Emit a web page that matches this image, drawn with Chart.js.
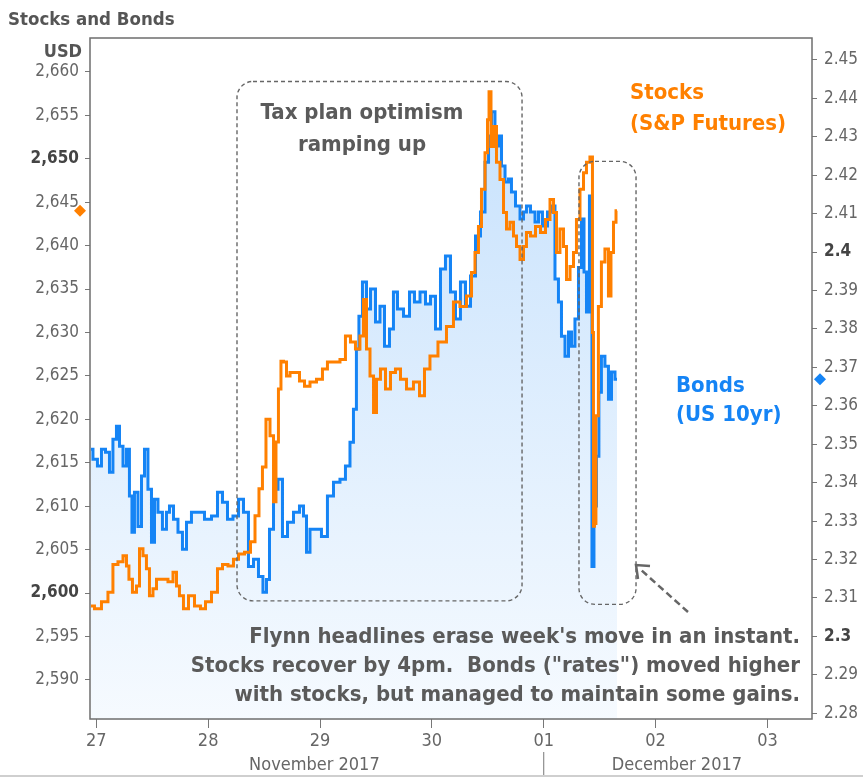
<!DOCTYPE html>
<html>
<head>
<meta charset="utf-8">
<script src="https://cdn.jsdelivr.net/npm/chart.js@4.4.0/dist/chart.umd.min.js"></script>
<style>
html, body { margin: 0; padding: 0; background: #fff; }
#wrap { width: 863px; height: 777px; position: relative; }
</style>
</head>
<body>
<div id="wrap"><canvas id="chart" width="863" height="777"></canvas></div>
<script>
// x = days since Nov 27 2017 00:00
var dayLabels = ['27', '28', '29', '30', '01', '02', '03'];
var monthNames = ['November 2017', 'December 2017'];

// Stocks (S&P futures), left axis
var stockTimes = [-0.047, 0.015, 0.078, 0.131, 0.167, 0.221, 0.257, 0.283, 0.301, 0.346, 0.373, 0.400, 0.435, 0.462, 0.489, 0.525, 0.552, 0.614, 0.668, 0.704, 0.730, 0.757, 0.802, 0.847, 0.909, 0.954, 0.999, 1.061, 1.106, 1.151, 1.204, 1.249, 1.294, 1.356, 1.401, 1.437, 1.472, 1.499, 1.535, 1.571, 1.598, 1.615, 1.642, 1.660, 1.687, 1.714, 1.750, 1.794, 1.839, 1.884, 1.937, 2.000, 2.044, 2.089, 2.152, 2.205, 2.250, 2.295, 2.339, 2.375, 2.402, 2.429, 2.465, 2.492, 2.518, 2.563, 2.608, 2.652, 2.697, 2.742, 2.804, 2.867, 2.912, 2.956, 3.010, 3.099, 3.162, 3.224, 3.278, 3.341, 3.368, 3.403, 3.430, 3.457, 3.493, 3.502, 3.520, 3.537, 3.564, 3.591, 3.627, 3.654, 3.680, 3.716, 3.743, 3.770, 3.806, 3.832, 3.859, 3.904, 3.949, 3.993, 4.038, 4.074, 4.101, 4.127, 4.163, 4.190, 4.217, 4.253, 4.279, 4.306, 4.342, 4.369, 4.395, 4.431, 4.440, 4.449, 4.458, 4.475, 4.502, 4.529, 4.565, 4.592, 4.610, 4.637, 4.655];
var stockValues = [2598.5, 2598.2, 2599.0, 2600.1, 2603.3, 2603.6, 2604.3, 2603.1, 2601.6, 2600.1, 2600.8, 2605.1, 2604.3, 2602.8, 2599.7, 2600.5, 2601.6, 2601.6, 2601.3, 2602.4, 2600.8, 2599.7, 2598.2, 2599.7, 2598.5, 2598.2, 2599.0, 2600.1, 2602.8, 2603.3, 2603.1, 2603.9, 2604.5, 2604.7, 2605.9, 2608.9, 2612.0, 2614.5, 2620.0, 2618.1, 2610.5, 2617.4, 2623.5, 2626.7, 2626.6, 2625.0, 2625.4, 2625.4, 2624.4, 2623.8, 2624.3, 2624.6, 2625.8, 2626.6, 2626.6, 2626.9, 2629.6, 2628.9, 2628.1, 2629.6, 2633.8, 2628.1, 2625.0, 2620.8, 2624.6, 2625.8, 2623.5, 2625.4, 2625.8, 2624.6, 2623.5, 2624.3, 2622.7, 2625.8, 2627.3, 2628.9, 2630.7, 2633.5, 2633.0, 2634.2, 2636.9, 2639.2, 2642.2, 2646.5, 2650.7, 2654.5, 2657.7, 2651.4, 2653.7, 2649.6, 2647.6, 2643.8, 2641.9, 2642.7, 2641.1, 2639.9, 2638.4, 2639.9, 2641.5, 2641.1, 2642.2, 2641.5, 2643.0, 2645.3, 2643.8, 2639.2, 2641.9, 2639.9, 2636.1, 2637.6, 2639.2, 2643.0, 2646.5, 2648.4, 2649.6, 2650.2, 2630.0, 2607.7, 2608.0, 2620.4, 2633.0, 2638.1, 2639.6, 2634.2, 2639.2, 2642.7, 2644.0];

// Bonds (US 10yr yield), right axis
var bondTimes = [-0.047, -0.012, 0.033, 0.060, 0.105, 0.131, 0.167, 0.194, 0.221, 0.257, 0.283, 0.310, 0.328, 0.355, 0.391, 0.418, 0.444, 0.480, 0.507, 0.534, 0.569, 0.614, 0.641, 0.668, 0.713, 0.748, 0.793, 0.820, 0.882, 0.936, 0.999, 1.061, 1.106, 1.151, 1.195, 1.249, 1.294, 1.338, 1.383, 1.428, 1.472, 1.508, 1.535, 1.562, 1.607, 1.642, 1.687, 1.732, 1.794, 1.839, 1.866, 1.893, 1.928, 1.982, 2.044, 2.089, 2.152, 2.205, 2.250, 2.286, 2.312, 2.339, 2.357, 2.402, 2.429, 2.474, 2.518, 2.554, 2.599, 2.643, 2.670, 2.715, 2.778, 2.822, 2.867, 2.921, 2.965, 3.010, 3.055, 3.099, 3.144, 3.189, 3.233, 3.278, 3.323, 3.368, 3.412, 3.457, 3.493, 3.520, 3.546, 3.582, 3.609, 3.636, 3.672, 3.698, 3.725, 3.770, 3.806, 3.832, 3.859, 3.904, 3.940, 3.966, 4.011, 4.056, 4.083, 4.118, 4.145, 4.172, 4.208, 4.235, 4.261, 4.297, 4.324, 4.351, 4.369, 4.395, 4.422, 4.440, 4.458, 4.484, 4.502, 4.529, 4.565, 4.592, 4.619, 4.655];
var bondValues = [2.3487, 2.3461, 2.3443, 2.3487, 2.3479, 2.3427, 2.3513, 2.3547, 2.3495, 2.3443, 2.3487, 2.3365, 2.3271, 2.3375, 2.3286, 2.3417, 2.3487, 2.3383, 2.3245, 2.3357, 2.3323, 2.3279, 2.3323, 2.3339, 2.3305, 2.3271, 2.3227, 2.3297, 2.3323, 2.3323, 2.3305, 2.3313, 2.3375, 2.3349, 2.3305, 2.3313, 2.3357, 2.3323, 2.3182, 2.3201, 2.3156, 2.3115, 2.3148, 2.3279, 2.3383, 2.3409, 2.3260, 2.3297, 2.3323, 2.3339, 2.3313, 2.3219, 2.3279, 2.3279, 2.3260, 2.3365, 2.3401, 2.3409, 2.3443, 2.3505, 2.3591, 2.3747, 2.3833, 2.3922, 2.3852, 2.3904, 2.3818, 2.3859, 2.3755, 2.3800, 2.3896, 2.3852, 2.3833, 2.3896, 2.3870, 2.3896, 2.3865, 2.3885, 2.3800, 2.3956, 2.3990, 2.3896, 2.3826, 2.3922, 2.3859, 2.3938, 2.4042, 2.4104, 2.4234, 2.4302, 2.4365, 2.4276, 2.4302, 2.4224, 2.4182, 2.4190, 2.4156, 2.4120, 2.4086, 2.4104, 2.4120, 2.4104, 2.4078, 2.4104, 2.4068, 2.4104, 2.4120, 2.3930, 2.3870, 2.3781, 2.3729, 2.3792, 2.3755, 2.3826, 2.3960, 2.4086, 2.3948, 2.3844, 2.4146, 2.3182, 2.3339, 2.3469, 2.3635, 2.3729, 2.3703, 2.3617, 2.3688, 2.3669];

var FONT = '"DejaVu Sans Condensed", "DejaVu Sans", sans-serif';
var ORANGE = '#ff8000';
var BLUE = '#1584f5';
var GREY = '#5a5a5a';

function pts(xs, ys) {
    return xs.map(function (x, i) { return { x: x, y: ys[i] }; });
}

// dashed boxes in data units (x days, y on the stocks axis)
var boxes = [
    { x0: 1.258, x1: 3.806, y0: 2599.1, y1: 2658.9 },
    { x0: 4.315, x1: 4.825, y0: 2598.7, y1: 2649.7 }
];

function roundRect(ctx, x, y, w, h, r) {
    ctx.beginPath();
    ctx.moveTo(x + r, y);
    ctx.lineTo(x + w - r, y);
    ctx.arcTo(x + w, y, x + w, y + r, r);
    ctx.lineTo(x + w, y + h - r);
    ctx.arcTo(x + w, y + h, x + w - r, y + h, r);
    ctx.lineTo(x + r, y + h);
    ctx.arcTo(x, y + h, x, y + h - r, r);
    ctx.lineTo(x, y + r);
    ctx.arcTo(x, y, x + r, y, r);
    ctx.closePath();
}

function lines(ctx, arr, x, y0, step, color, align) {
    ctx.fillStyle = color;
    ctx.textAlign = align;
    arr.forEach(function (s, i) { ctx.fillText(s, x, y0 + i * step); });
}

function diamond(ctx, x, y, r, color) {
    ctx.beginPath();
    ctx.moveTo(x, y - r); ctx.lineTo(x + r, y); ctx.lineTo(x, y + r); ctx.lineTo(x - r, y);
    ctx.closePath();
    ctx.fillStyle = color;
    ctx.fill();
}

var overlay = {
    id: 'overlay',
    beforeDraw: function (chart) {
        var ctx = chart.ctx;
        ctx.save();
        ctx.fillStyle = '#fff';
        ctx.fillRect(0, 0, chart.width, chart.height);
        ctx.restore();
    },
    afterDatasetsDraw: function (chart) {
        var ctx = chart.ctx, a = chart.chartArea;
        var sx = chart.scales.x, sl = chart.scales.yL, sr = chart.scales.yR;
        ctx.save();
        // frame
        ctx.strokeStyle = '#6e6e6e';
        ctx.lineWidth = 1.5;
        ctx.strokeRect(a.left, a.top, a.right - a.left, a.bottom - a.top);

        // dashed boxes
        ctx.strokeStyle = '#666';
        ctx.lineWidth = 1.4;
        ctx.setLineDash([4, 3]);
        boxes.forEach(function (b) {
            var x0 = sx.getPixelForValue(b.x0), x1 = sx.getPixelForValue(b.x1);
            var y0 = sl.getPixelForValue(b.y1), y1 = sl.getPixelForValue(b.y0);
            roundRect(ctx, x0, y0, x1 - x0, y1 - y0, 16);
            ctx.stroke();
        });

        // arrow
        ctx.strokeStyle = '#666';
        ctx.lineWidth = 2.5;
        ctx.setLineDash([7, 4]);
        ctx.beginPath(); ctx.moveTo(688, 612); ctx.lineTo(640, 569); ctx.stroke();
        ctx.setLineDash([]);
        ctx.beginPath();
        ctx.moveTo(650, 566); ctx.lineTo(636, 565); ctx.lineTo(638, 579);
        ctx.stroke();

        // texts
        ctx.font = 'bold 22px ' + FONT;
        ctx.textBaseline = 'middle';
        lines(ctx, ['Tax plan optimism', 'ramping up'], 362, 113, 32, GREY, 'center');
        lines(ctx, ['Stocks', '(S&P Futures)'], 630, 93, 31, ORANGE, 'left');
        lines(ctx, ['Bonds', '(US 10yr)'], 676, 386, 29, BLUE, 'left');
        lines(ctx, ['Flynn headlines erase week\'s move in an instant.',
                    'Stocks recover by 4pm.  Bonds ("rates") moved higher',
                    'with stocks, but managed to maintain some gains.'], 800, 637, 29, GREY, 'right');

        // last-value markers on the axes
        diamond(ctx, 80, sl.getPixelForValue(stockValues[stockValues.length - 1]), 6, ORANGE);
        diamond(ctx, 820, sr.getPixelForValue(bondValues[bondValues.length - 1]), 6, BLUE);

        // title and unit
        ctx.font = 'bold 18.5px ' + FONT;
        lines(ctx, ['Stocks and Bonds'], 8, 20, 0, '#555', 'left');
        ctx.font = 'bold 18px ' + FONT;
        lines(ctx, ['USD'], 82, 52, 0, '#555', 'right');

        // month row
        ctx.font = '18px ' + FONT;
        lines(ctx, [monthNames[0]], sx.getPixelForValue(1.95), 765, 0, '#666', 'center');
        lines(ctx, [monthNames[1]], sx.getPixelForValue(5.19), 765, 0, '#666', 'center');
        var xb = sx.getPixelForValue(4);
        ctx.strokeStyle = '#777';
        ctx.lineWidth = 1;
        ctx.beginPath(); ctx.moveTo(xb, 752); ctx.lineTo(xb, 777); ctx.stroke();

        // bottom rule
        ctx.strokeStyle = '#cfcfcf';
        ctx.lineWidth = 2;
        ctx.beginPath(); ctx.moveTo(0, 776); ctx.lineTo(863, 776); ctx.stroke();
        ctx.restore();
    }
};

function tickFont(boldVals) {
    return function (c) {
        var v = c.tick ? c.tick.value : null;
        var bold = boldVals.some(function (b) { return v !== null && Math.abs(v - b) < 1e-6; });
        return { family: FONT, size: 17, weight: bold ? 'bold' : 'normal' };
    };
}

new Chart(document.getElementById('chart'), {
    type: 'line',
    data: {
        datasets: [{
            label: 'Stocks (S&P Futures)',
            data: pts(stockTimes, stockValues),
            yAxisID: 'yL',
            borderColor: ORANGE,
            borderWidth: 3,
            pointRadius: 0,
            stepped: 'middle',
            fill: false
        }, {
            label: 'Bonds (US 10yr)',
            data: pts(bondTimes, bondValues),
            yAxisID: 'yR',
            borderColor: BLUE,
            borderWidth: 3,
            pointRadius: 0,
            stepped: 'middle',
            fill: 'start',
            backgroundColor: function (c) {
                var a = c.chart.chartArea;
                if (!a) return 'rgba(21,132,245,0.15)';
                var g = c.chart.ctx.createLinearGradient(0, a.top, 0, a.bottom);
                g.addColorStop(0, 'rgba(21,132,245,0.26)');
                g.addColorStop(1, 'rgba(21,132,245,0.04)');
                return g;
            }
        }]
    },
    options: {
        responsive: false,
        animation: false,
        layout: { padding: { top: 38, left: 0, right: 0, bottom: 0 } },
        plugins: { legend: { display: false }, tooltip: { enabled: false } },
        scales: {
            x: {
                type: 'linear',
                min: -0.056,
                max: 6.398,
                afterFit: function (s) { s.height = 58; },
                grid: { drawOnChartArea: false, drawTicks: true, tickLength: 9, color: '#777' },
                border: { display: false },
                ticks: {
                    stepSize: 1,
                    includeBounds: false,
                    autoSkip: false,
                    maxRotation: 0,
                    padding: 3,
                    color: '#666',
                    font: { family: FONT, size: 18 },
                    callback: function (v) { return dayLabels[Math.round(v)] || ''; }
                }
            },
            yL: {
                position: 'left',
                min: 2585.5,
                max: 2663.9,
                afterFit: function (s) { s.width = 90; },
                grid: { drawOnChartArea: false, drawTicks: true, tickLength: 5, color: '#777' },
                border: { display: false },
                ticks: {
                    stepSize: 5,
                    includeBounds: false,
                    padding: 6,
                    color: function (c) { return (c.tick.value === 2650 || c.tick.value === 2600) ? '#444' : '#666'; },
                    font: tickFont([2650, 2600])
                }
            },
            yR: {
                position: 'right',
                min: 2.2785,
                max: 2.4557,
                afterFit: function (s) { s.width = 51; },
                grid: { drawOnChartArea: false, drawTicks: true, tickLength: 5, color: '#777' },
                border: { display: false },
                ticks: {
                    stepSize: 0.01,
                    includeBounds: false,
                    padding: 7,
                    color: function (c) { return (Math.abs(c.tick.value - 2.4) < 1e-6 || Math.abs(c.tick.value - 2.3) < 1e-6) ? '#444' : '#666'; },
                    font: tickFont([2.4, 2.3]),
                    callback: function (v) { return String(Number(v.toFixed(2))); }
                }
            }
        }
    },
    plugins: [overlay]
});
</script>
</body>
</html>
